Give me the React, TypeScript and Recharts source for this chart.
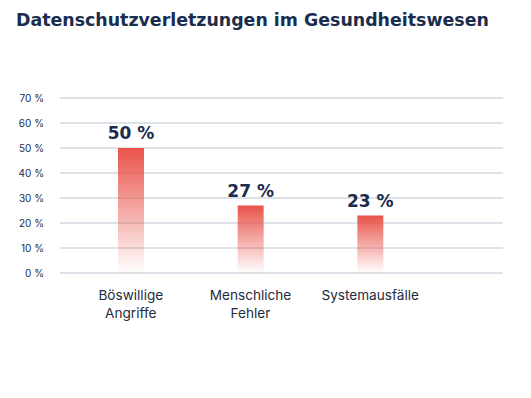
import { Bar, BarChart, CartesianGrid, LabelList, XAxis, YAxis } from "recharts";

const categories = ["Böswillige Angriffe", "Menschliche Fehler", "Systemausfälle"];
const shares = [50, 27, 23];
const yTicks = [0, 10, 20, 30, 40, 50, 60, 70];

const data = categories.map((name, i) => ({ name, value: shares[i] }));

const navy = "#1b2d4d";

function CategoryTick({ x, y, payload }: any) {
  const words = String(payload.value).split(" ");
  return (
    <text x={x} y={y} textAnchor="middle" fill="#232b3d" fontSize={13.6} fontFamily="Inter, sans-serif">
      {words.map((w, i) => (
        <tspan key={w} x={x} dy={i === 0 ? 15 : 18}>
          {w}
        </tspan>
      ))}
    </text>
  );
}

function ValueLabel({ x, y, width, value }: any) {
  return (
    <text
      x={Number(x) + Number(width) / 2}
      y={Number(y) - 9}
      textAnchor="middle"
      fill={navy}
      fontSize={17}
      fontWeight={800}
      fontFamily="'DejaVu Sans', sans-serif"
    >
      {`${value} %`}
    </text>
  );
}

export default function App() {
  return (
    <div style={{ position: "absolute", left: 0, top: 0, width: 531, height: 398, background: "#fff" }}>
      <div
        style={{
          position: "absolute",
          left: 16,
          top: 10,
          fontFamily: "'DejaVu Sans', sans-serif",
          fontWeight: 700,
          fontSize: 17.4,
          color: navy,
          whiteSpace: "nowrap",
        }}
      >
        Datenschutzverletzungen im Gesundheitswesen
      </div>
      <BarChart width={531} height={398} data={data} margin={{ top: 98, right: 28, bottom: 0, left: 0 }}>
        <defs>
          <linearGradient id="barFade" x1="0" y1="0" x2="0" y2="1">
            <stop offset="0%" stopColor="#e9534a" stopOpacity={1} />
            <stop offset="100%" stopColor="#e9534a" stopOpacity={0} />
          </linearGradient>
        </defs>
        <CartesianGrid vertical={false} stroke="#d3d7df" strokeWidth={1.5} />
        <XAxis
          dataKey="name"
          height={125}
          axisLine={false}
          tickLine={false}
          tickSize={0}
          tickMargin={12}
          padding={{ left: 11, right: 73 }}
          interval={0}
          tick={<CategoryTick />}
        />
        <YAxis
          width={60}
          domain={[0, 70]}
          ticks={yTicks}
          axisLine={false}
          tickLine={false}
          tickSize={0}
          tickMargin={16}
          tickFormatter={(v) => `${v} %`}
          tick={{ fill: navy, fontSize: 10, fontFamily: "Inter, sans-serif" }}
        />
        <Bar dataKey="value" fill="url(#barFade)" barSize={26} isAnimationActive={false}>
          <LabelList dataKey="value" content={<ValueLabel />} />
        </Bar>
      </BarChart>
    </div>
  );
}
